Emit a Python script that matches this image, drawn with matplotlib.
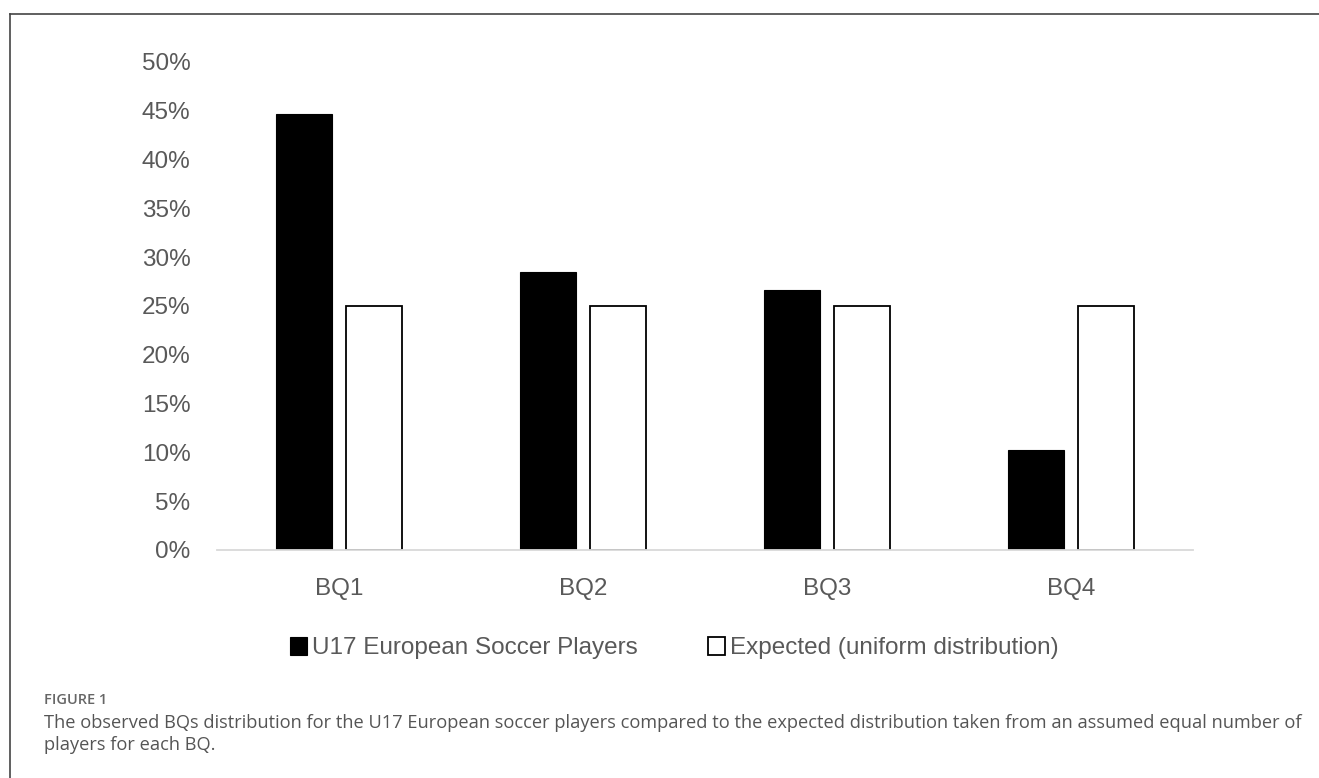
import matplotlib

matplotlib.use("Agg")

import matplotlib.pyplot as plt  # noqa: E402
import numpy as np  # noqa: E402
from matplotlib.lines import Line2D  # noqa: E402
from matplotlib.patches import Patch  # noqa: E402
from matplotlib.ticker import FuncFormatter  # noqa: E402

categories = ["BQ1", "BQ2", "BQ3", "BQ4"]
observed = [44.7, 28.5, 26.6, 10.2]
expected = [25.0, 25.0, 25.0, 25.0]
series_names = ["U17 European Soccer Players", "Expected (uniform distribution)"]
y_ticks = [0, 5, 10, 15, 20, 25, 30, 35, 40, 45, 50]

caption_label = "FIGURE 1"
caption_lines = [
    "The observed BQs distribution for the U17 European soccer players compared to the expected distribution taken from an assumed equal number of",
    "players for each BQ.",
]

W, H = 1319, 778
TEXT = "#595959"

fig = plt.figure(figsize=(W / 100, H / 100), dpi=100)
ax = fig.add_axes([217 / W, 1 - 550 / H, 976 / W, 488 / H])

x = np.arange(len(categories))
width = 0.23
off = 0.143
ax.bar(x - off, observed, width, color="black", edgecolor="black", linewidth=0.8)
ax.bar(x + off, expected, width, color="white", edgecolor="black", linewidth=1.3)

ax.set_xlim(-0.5, len(categories) - 0.5)
ax.set_ylim(0, 50)
ax.set_yticks(y_ticks)
ax.yaxis.set_major_formatter(FuncFormatter(lambda v, _: f"{v:.0f}%"))
ax.set_xticks(x)
ax.set_xticklabels(categories)

for s in ("top", "right", "left"):
    ax.spines[s].set_visible(False)
ax.spines["bottom"].set_color("#d9d9d9")
ax.spines["bottom"].set_linewidth(1.3)
ax.tick_params(axis="both", length=0, colors=TEXT, labelsize=17.5)
ax.tick_params(axis="y", pad=19)
ax.tick_params(axis="x", pad=20)
for lab in ax.get_xticklabels() + ax.get_yticklabels():
    lab.set_fontfamily(["Liberation Sans", "DejaVu Sans"])

handles = [
    Patch(facecolor="black", edgecolor="black", linewidth=0.8),
    Patch(facecolor="white", edgecolor="black", linewidth=1.3),
]
leg = fig.legend(
    handles,
    series_names,
    loc="center",
    bbox_to_anchor=(674 / W, 1 - 648 / H),
    ncol=2,
    frameon=False,
    handlelength=0.7,
    handleheight=0.8,
    handletextpad=0.2,
    columnspacing=2.9,
    prop={"family": ["Liberation Sans", "DejaVu Sans"], "size": 17.5},
)
for t in leg.get_texts():
    t.set_color(TEXT)

fig.text(44 / W, 1 - 700 / H, caption_label, fontsize=10.5, fontweight="semibold",
         color="#666666", family=["Open Sans", "DejaVu Sans"], va="center", ha="left")
for i, line in enumerate(caption_lines):
    fig.text(44 / W, 1 - (723 + 22 * i) / H, line, fontsize=13.15, color="#555555",
             family=["Open Sans", "DejaVu Sans"], va="center", ha="left")

fig.add_artist(Line2D([10 / W, 10 / W], [0, 1 - 14 / H], transform=fig.transFigure,
                      color="#444444", linewidth=1.2))
fig.add_artist(Line2D([10 / W, 1], [1 - 14 / H, 1 - 14 / H], transform=fig.transFigure,
                      color="#444444", linewidth=1.2))

fig.savefig("out.png", dpi=100)
plt.close(fig)
